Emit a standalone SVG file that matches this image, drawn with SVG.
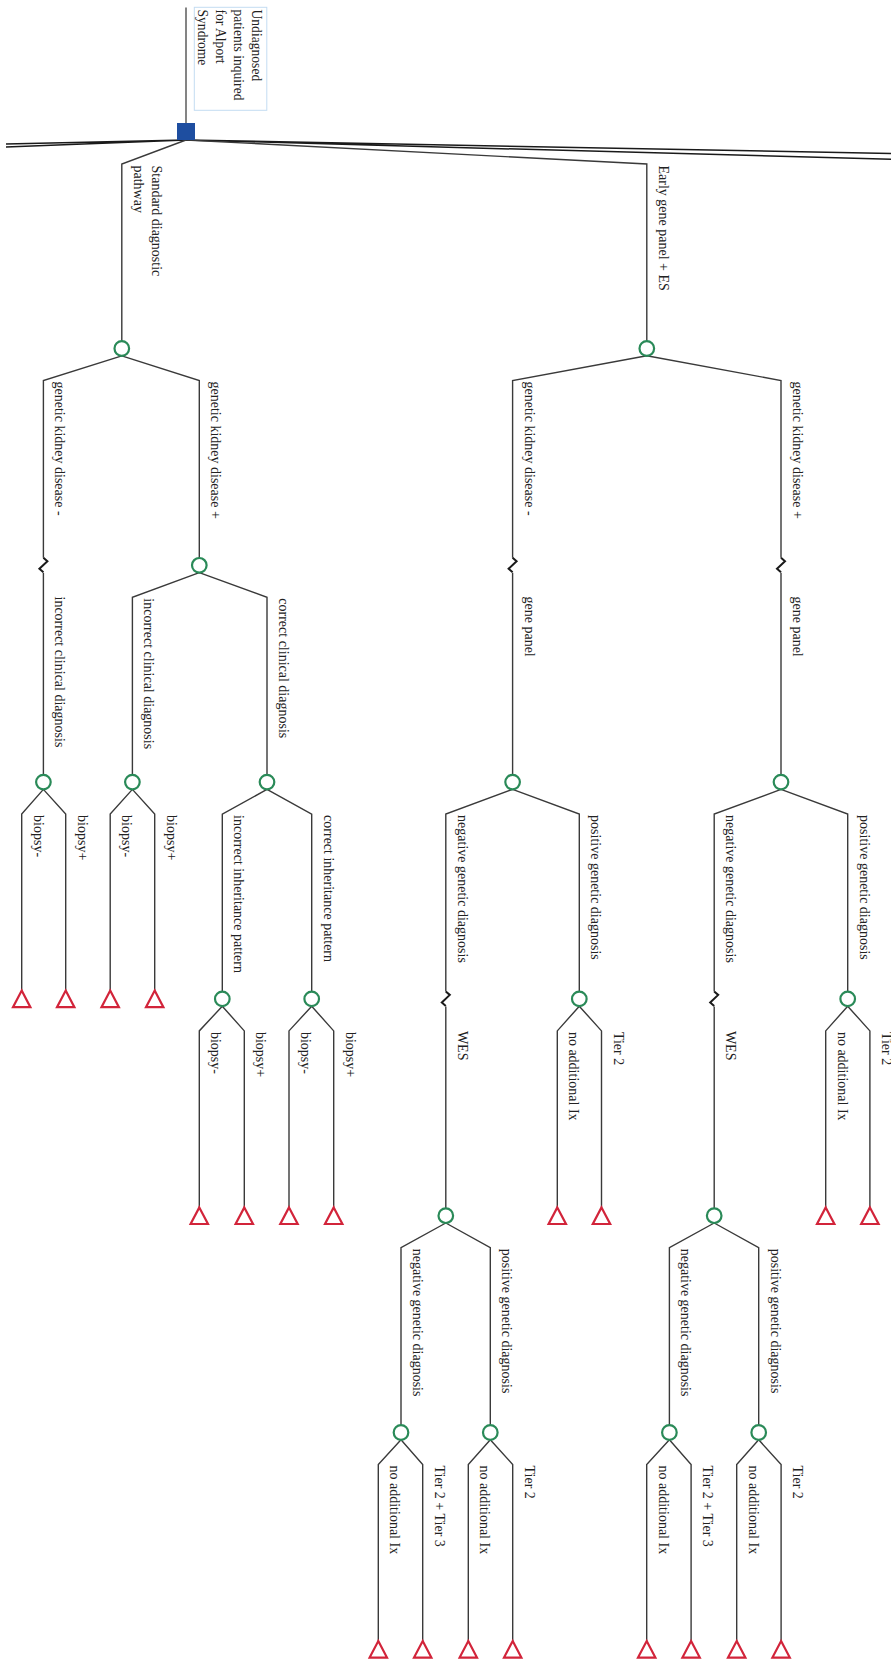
<svg xmlns="http://www.w3.org/2000/svg" xmlns:xlink="http://www.w3.org/1999/xlink" width="891" height="1661" viewBox="0 0 891 1661">
<style>
.c{fill:none;stroke:#3a3a3a;stroke-width:1.4;stroke-linejoin:miter}
.brk{fill:none;stroke:#1a1a1a;stroke-width:2}
.root{fill:none;stroke:#1a1a1a;stroke-width:1.5}
.chance{fill:#fff;stroke:#2a8a58;stroke-width:2.2}
.term{fill:#fff;stroke:#d2243a;stroke-width:2.2;stroke-linejoin:miter}
.t{font-family:"Liberation Serif",serif;font-size:14px;fill:#222}
.rt{font-family:"Liberation Serif",serif;font-size:13.6px;fill:#222}
</style>
<defs>
<path id="tri" class="term" d="M0 -8.3 L8.7 8.3 L-8.7 8.3 Z"/>
<path id="zz" class="brk" d="M0 -7.5 l4 3.5 l-8 7.5 l4 3.5"/>
</defs>
<rect width="891" height="1661" fill="#fff"/>

<g id="connectors">
<path d="M186 7.5 V123" fill="none" stroke="#777" stroke-width="1.8"/>
<path class="root" d="M186 140 L6 144 M186 140 L6 147 M186 140 L900 153.6 M186 140 L900 159.6"/>
<path class="c" d="M186 140 L121.8 164 V341.2"/>
<path class="c" d="M186 140 L646.8 164 V341.2"/>
<!-- Standard subtree -->
<path class="c" d="M121.8 355.8 L43.4 380.5 V557.8 M43.4 572.8 V774.8"/>
<path class="c" d="M121.8 355.8 L199.3 380.5 V558"/>
<path class="c" d="M43.4 789.4 L21.7 814.1 V990.6 M43.4 789.4 L65.7 814.1 V990.6"/>
<path class="c" d="M199.3 572.6 L132.4 597.3 V774.8 M199.3 572.6 L267 597.3 V774.8"/>
<path class="c" d="M132.4 789.4 L110.2 814.1 V990.6 M132.4 789.4 L154.7 814.1 V990.6"/>
<path class="c" d="M267 789.4 L222.3 814.1 V991.6 M267 789.4 L311.7 814.1 V991.6"/>
<path class="c" d="M222.3 1006.2 L199.3 1030.9 V1207.4 M222.3 1006.2 L244.3 1030.9 V1207.4"/>
<path class="c" d="M311.7 1006.2 L289 1030.9 V1207.4 M311.7 1006.2 L333.7 1030.9 V1207.4"/>
<!-- Early subtree -->
<path class="c" d="M646.8 355.8 L512.6 380.5 V557.8 M512.6 572.8 V774.8"/>
<path class="c" d="M646.8 355.8 L781 380.5 V557.8 M781 572.8 V774.8"/>
<!-- left gene panel -->
<path class="c" d="M512.6 789.4 L445.8 814.1 V991.4 M445.8 1006.4 V1208.4"/>
<path class="c" d="M512.6 789.4 L579.3 814.1 V991.6"/>
<path class="c" d="M579.3 1006.2 L557.3 1030.9 V1207.4 M579.3 1006.2 L601.5 1030.9 V1207.4"/>
<path class="c" d="M445.8 1223 L401 1247.7 V1425.2 M445.8 1223 L490.3 1247.7 V1425.2"/>
<path class="c" d="M401 1439.8 L378.3 1464.5 V1641 M401 1439.8 L422.7 1464.5 V1641"/>
<path class="c" d="M490.3 1439.8 L468.3 1464.5 V1641 M490.3 1439.8 L512.7 1464.5 V1641"/>
<!-- right gene panel -->
<path class="c" d="M781 789.4 L714.2 814.1 V991.4 M714.2 1006.4 V1208.4"/>
<path class="c" d="M781 789.4 L847.7 814.1 V991.6"/>
<path class="c" d="M847.7 1006.2 L825.7 1030.9 V1207.4 M847.7 1006.2 L869.9 1030.9 V1207.4"/>
<path class="c" d="M714.2 1223 L669.4 1247.7 V1425.2 M714.2 1223 L758.7 1247.7 V1425.2"/>
<path class="c" d="M669.4 1439.8 L646.7 1464.5 V1641 M669.4 1439.8 L691.1 1464.5 V1641"/>
<path class="c" d="M758.7 1439.8 L736.7 1464.5 V1641 M758.7 1439.8 L781.1 1464.5 V1641"/>
<!-- breaks -->
<use xlink:href="#zz" x="43.4" y="565.3"/>
<use xlink:href="#zz" x="512.6" y="565.3"/>
<use xlink:href="#zz" x="781" y="565.3"/>
<use xlink:href="#zz" x="445.8" y="998.9"/>
<use xlink:href="#zz" x="714.2" y="998.9"/>
</g>

<g id="labels">
<text class="t" transform="translate(152,165.5) rotate(90)">Standard diagnostic</text>
<text class="t" transform="translate(134,165.5) rotate(90)">pathway</text>
<text class="t" transform="translate(658.8,165.5) rotate(90)">Early gene panel + ES</text>
<text class="t" transform="translate(55.4,381.5) rotate(90)">genetic kidney disease -</text>
<text class="t" transform="translate(55.4,596.5) rotate(90)">incorrect clinical diagnosis</text>
<text class="t" transform="translate(211.3,381.5) rotate(90)">genetic kidney disease +</text>
<text class="t" transform="translate(33.7,815.1) rotate(90)">biopsy-</text>
<text class="t" transform="translate(77.7,815.1) rotate(90)">biopsy+</text>
<text class="t" transform="translate(144.4,598.3) rotate(90)">incorrect clinical diagnosis</text>
<text class="t" transform="translate(279,598.3) rotate(90)">correct clinical diagnosis</text>
<text class="t" transform="translate(122.2,815.1) rotate(90)">biopsy-</text>
<text class="t" transform="translate(166.7,815.1) rotate(90)">biopsy+</text>
<text class="t" transform="translate(234.3,815.1) rotate(90)">incorrect inheritance pattern</text>
<text class="t" transform="translate(323.7,815.1) rotate(90)">correct inheritance pattern</text>
<text class="t" transform="translate(211.3,1031.9) rotate(90)">biopsy-</text>
<text class="t" transform="translate(256.3,1031.9) rotate(90)">biopsy+</text>
<text class="t" transform="translate(301,1031.9) rotate(90)">biopsy-</text>
<text class="t" transform="translate(345.7,1031.9) rotate(90)">biopsy+</text>

<text class="t" transform="translate(524.6,381.5) rotate(90)">genetic kidney disease -</text>
<text class="t" transform="translate(524.6,596.5) rotate(90)">gene panel</text>
<text class="t" transform="translate(793,381.5) rotate(90)">genetic kidney disease +</text>
<text class="t" transform="translate(793,596.5) rotate(90)">gene panel</text>

<text class="t" transform="translate(457.8,815.1) rotate(90)">negative genetic diagnosis</text>
<text class="t" transform="translate(457.8,1030.9) rotate(90)">WES</text>
<text class="t" transform="translate(591.3,815.1) rotate(90)">positive genetic diagnosis</text>
<text class="t" transform="translate(569.3,1031.9) rotate(90)">no additional Ix</text>
<text class="t" transform="translate(613.5,1031.9) rotate(90)">Tier 2</text>
<text class="t" transform="translate(413,1248.7) rotate(90)">negative genetic diagnosis</text>
<text class="t" transform="translate(502.3,1248.7) rotate(90)">positive genetic diagnosis</text>
<text class="t" transform="translate(390.3,1465.5) rotate(90)">no additional Ix</text>
<text class="t" transform="translate(434.7,1465.5) rotate(90)">Tier 2 + Tier 3</text>
<text class="t" transform="translate(480.3,1465.5) rotate(90)">no additional Ix</text>
<text class="t" transform="translate(524.7,1465.5) rotate(90)">Tier 2</text>

<text class="t" transform="translate(726.2,815.1) rotate(90)">negative genetic diagnosis</text>
<text class="t" transform="translate(726.2,1030.9) rotate(90)">WES</text>
<text class="t" transform="translate(859.7,815.1) rotate(90)">positive genetic diagnosis</text>
<text class="t" transform="translate(837.7,1031.9) rotate(90)">no additional Ix</text>
<text class="t" transform="translate(881.9,1031.9) rotate(90)">Tier 2</text>
<text class="t" transform="translate(681.4,1248.7) rotate(90)">negative genetic diagnosis</text>
<text class="t" transform="translate(770.7,1248.7) rotate(90)">positive genetic diagnosis</text>
<text class="t" transform="translate(658.7,1465.5) rotate(90)">no additional Ix</text>
<text class="t" transform="translate(703.1,1465.5) rotate(90)">Tier 2 + Tier 3</text>
<text class="t" transform="translate(748.7,1465.5) rotate(90)">no additional Ix</text>
<text class="t" transform="translate(793.1,1465.5) rotate(90)">Tier 2</text>
</g>

<g id="root">
<rect x="194.3" y="7.3" width="72.5" height="103" fill="#fff" stroke="#c4dcf2" stroke-width="1"/>
<text class="rt" transform="translate(251.5,9.5) rotate(90)">Undiagnosed</text>
<text class="rt" transform="translate(233.7,9.5) rotate(90)">patients inquired</text>
<text class="rt" transform="translate(216,9.5) rotate(90)">for Alport</text>
<text class="rt" transform="translate(198.3,9.5) rotate(90)">Syndrome</text>
<rect x="177" y="123" width="18" height="17" fill="#1e4ea0"/>
</g>

<g id="chance-nodes">
<g id="n-standard"><circle class="chance" cx="121.8" cy="348.5" r="7.3"/></g>
<g id="n-early"><circle class="chance" cx="646.8" cy="348.5" r="7.3"/></g>
<g id="n-s-gkd-minus"><circle class="chance" cx="43.4" cy="782.1" r="7.3"/></g>
<g id="n-s-gkd-plus"><circle class="chance" cx="199.3" cy="565.3" r="7.3"/></g>
<g id="n-s-incorrect"><circle class="chance" cx="132.4" cy="782.1" r="7.3"/></g>
<g id="n-s-correct"><circle class="chance" cx="267" cy="782.1" r="7.3"/></g>
<g id="n-s-inc-inh"><circle class="chance" cx="222.3" cy="998.9" r="7.3"/></g>
<g id="n-s-cor-inh"><circle class="chance" cx="311.7" cy="998.9" r="7.3"/></g>
<g id="n-e-gp-l"><circle class="chance" cx="512.6" cy="782.1" r="7.3"/></g>
<g id="n-e-gp-l-wes"><circle class="chance" cx="445.8" cy="1215.7" r="7.3"/></g>
<g id="n-e-gp-l-pos"><circle class="chance" cx="579.3" cy="998.9" r="7.3"/></g>
<g id="n-e-gp-l-wes-neg"><circle class="chance" cx="401" cy="1432.5" r="7.3"/></g>
<g id="n-e-gp-l-wes-pos"><circle class="chance" cx="490.3" cy="1432.5" r="7.3"/></g>
<g id="n-e-gp-r"><circle class="chance" cx="781" cy="782.1" r="7.3"/></g>
<g id="n-e-gp-r-wes"><circle class="chance" cx="714.2" cy="1215.7" r="7.3"/></g>
<g id="n-e-gp-r-pos"><circle class="chance" cx="847.7" cy="998.9" r="7.3"/></g>
<g id="n-e-gp-r-wes-neg"><circle class="chance" cx="669.4" cy="1432.5" r="7.3"/></g>
<g id="n-e-gp-r-wes-pos"><circle class="chance" cx="758.7" cy="1432.5" r="7.3"/></g>
</g>

<g id="terminal-nodes">
<g id="t1"><use xlink:href="#tri" x="21.7" y="998.9"/></g>
<g id="t2"><use xlink:href="#tri" x="65.7" y="998.9"/></g>
<g id="t3"><use xlink:href="#tri" x="110.2" y="998.9"/></g>
<g id="t4"><use xlink:href="#tri" x="154.7" y="998.9"/></g>
<g id="t5"><use xlink:href="#tri" x="199.3" y="1215.7"/></g>
<g id="t6"><use xlink:href="#tri" x="244.3" y="1215.7"/></g>
<g id="t7"><use xlink:href="#tri" x="289" y="1215.7"/></g>
<g id="t8"><use xlink:href="#tri" x="333.7" y="1215.7"/></g>
<g id="t9"><use xlink:href="#tri" x="557.3" y="1215.7"/></g>
<g id="t10"><use xlink:href="#tri" x="601.5" y="1215.7"/></g>
<g id="t11"><use xlink:href="#tri" x="825.7" y="1215.7"/></g>
<g id="t12"><use xlink:href="#tri" x="869.9" y="1215.7"/></g>
<g id="t13"><use xlink:href="#tri" x="378.3" y="1649.3"/></g>
<g id="t14"><use xlink:href="#tri" x="422.7" y="1649.3"/></g>
<g id="t15"><use xlink:href="#tri" x="468.3" y="1649.3"/></g>
<g id="t16"><use xlink:href="#tri" x="512.7" y="1649.3"/></g>
<g id="t17"><use xlink:href="#tri" x="646.7" y="1649.3"/></g>
<g id="t18"><use xlink:href="#tri" x="691.1" y="1649.3"/></g>
<g id="t19"><use xlink:href="#tri" x="736.7" y="1649.3"/></g>
<g id="t20"><use xlink:href="#tri" x="781.1" y="1649.3"/></g>
</g>
</svg>
